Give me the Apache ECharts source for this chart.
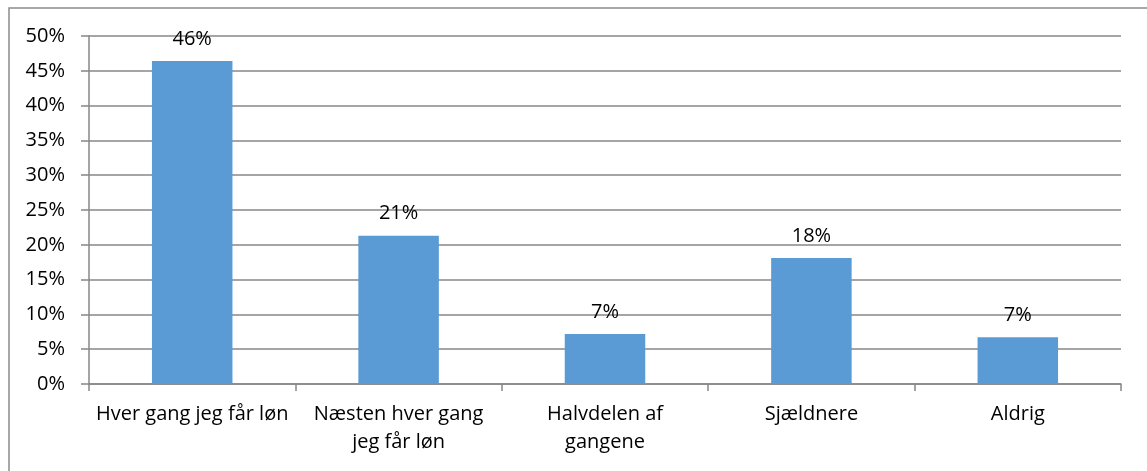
<!DOCTYPE html>
<html>
<head>
<meta charset="utf-8">
<script src="https://cdn.jsdelivr.net/npm/echarts@6/dist/echarts.min.js"></script>
<style>
  html, body { margin: 0; padding: 0; background: #fff; }
  #chart { width: 1147px; height: 471px; }
</style>
</head>
<body>
<div id="chart"></div>
<script>
var categories = ['Hver gang jeg får løn', 'Næsten hver gang\njeg får løn', 'Halvdelen af\ngangene', 'Sjældnere', 'Aldrig'];
var shares = [46.4, 21.3, 7.2, 18.1, 6.7];
var pctTicks = [0, 5, 10, 15, 20, 25, 30, 35, 40, 45, 50];

var font = '"Open Sans", sans-serif';
var gridColor = '#878787';

var chart = echarts.init(document.getElementById('chart'));
chart.setOption({
    animation: false,
    backgroundColor: '#fff',
    graphic: [{
        type: 'rect',
        shape: { x: 9, y: 8, width: 1200, height: 500 },
        style: { fill: 'none', stroke: '#8c8c8c', lineWidth: 1.5 },
        silent: true
    }],
    grid: { left: 89, right: 26, top: 36, bottom: 87 },
    xAxis: {
        type: 'category',
        data: categories,
        axisLine: { lineStyle: { color: gridColor, width: 1.5 } },
        axisTick: { show: true, length: 7, alignWithLabel: false, lineStyle: { color: gridColor, width: 1.5 } },
        axisLabel: {
            color: '#000', fontFamily: font, fontSize: 20, margin: 16,
            lineHeight: 28, interval: 0
        }
    },
    yAxis: {
        type: 'value',
        min: pctTicks[0],
        max: pctTicks[pctTicks.length - 1],
        interval: 5,
        axisLine: { show: true, lineStyle: { color: gridColor, width: 1.5 } },
        axisTick: { show: true, length: 8, lineStyle: { color: gridColor, width: 1.5 } },
        splitLine: { lineStyle: { color: gridColor, width: 1.5 } },
        axisLabel: {
            color: '#000', fontFamily: font, fontSize: 20, margin: 24,
            formatter: function (v) { return v + '%'; }
        }
    },
    series: [{
        type: 'bar',
        data: shares,
        barWidth: '39%',
        itemStyle: { color: '#5b9bd5' },
        label: {
            show: true,
            position: 'top',
            distance: 12,
            color: '#000',
            fontFamily: font,
            fontSize: 20,
            formatter: function (p) { return Math.round(p.value) + '%'; }
        }
    }]
});
</script>
</body>
</html>
